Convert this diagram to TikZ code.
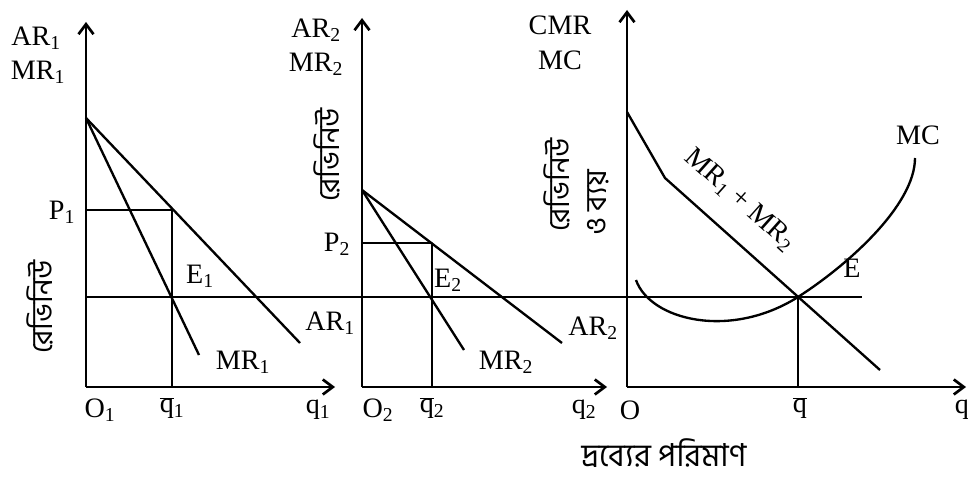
\documentclass[tikz,border=0pt]{standalone}
\usepackage{fontspec}
\setmainfont{Liberation Serif}
\newfontfamily\bnfont[Script=Bengali]{Hind Siliguri}
\usetikzlibrary{arrows.meta}
\newcommand{\qbar}{$\overline{\mbox{q}}$}

\begin{document}
\begin{tikzpicture}[x=0.03cm,y=-0.03cm,>={Straight Barb[length=3mm,width=4.5mm]},
  axis/.style={line width=2.3pt},
  curve/.style={line width=2pt,line join=round},
  lbl/.style={font=\fontsize{24}{26}\selectfont,inner sep=1pt},
  bn/.style={font=\bnfont\fontsize{25}{27}\selectfont,rotate=90,inner sep=1pt}]
  \useasboundingbox (0,0) rectangle (968,479);
  % first firm
  \coordinate (O1) at (86,387);
  \coordinate (Y1) at (86,22);
  \coordinate (X1) at (335,387);
  \coordinate (A1) at (86,118);
  \coordinate (P1) at (86,210);
  \coordinate (D1) at (172,210);
  \coordinate (E1) at (172,297);
  \coordinate (Q1) at (172,387);
  \coordinate (AR1) at (300,343);
  \coordinate (MR1) at (199,355);
  \draw[axis,->] (O1)--(Y1);
  \draw[axis,->] (O1)--(X1);
  \draw[curve] (A1)--(AR1);
  \draw[curve] (A1)--(MR1);
  \draw[curve] (P1)--(D1)--(Q1);
  % common MC level
  \coordinate (H0) at (86,297);
  \coordinate (H1) at (862,297);
  \draw[curve] (H0)--(H1);
  % second firm
  \coordinate (O2) at (362,387);
  \coordinate (Y2) at (362,18);
  \coordinate (X2) at (607,387);
  \coordinate (A2) at (362,190);
  \coordinate (P2) at (362,243);
  \coordinate (D2) at (432,243);
  \coordinate (E2) at (432,297);
  \coordinate (Q2) at (432,387);
  \coordinate (AR2) at (562,343);
  \coordinate (MR2) at (464,350);
  \draw[axis,->] (O2)--(Y2);
  \draw[axis,->] (O2)--(X2);
  \draw[curve] (A2)--(AR2);
  \draw[curve] (A2)--(MR2);
  \draw[curve] (P2)--(D2)--(Q2);
  % combined
  \coordinate (O3) at (627,387);
  \coordinate (Y3) at (627,10);
  \coordinate (X3) at (966,387);
  \coordinate (K0) at (627,112);
  \coordinate (K1) at (665,178);
  \coordinate (K2) at (880,370);
  \coordinate (E) at (798,297);
  \coordinate (Q3) at (798,387);
  \coordinate (MC0) at (636,280);
  \coordinate (MC1) at (915,158);
  \draw[axis,->] (O3)--(Y3);
  \draw[axis,->] (O3)--(X3);
  \draw[curve] (K0)--(K1)--(K2);
  \draw[curve] (E)--(Q3);
  \draw[curve] (MC0) .. controls (650,320) and (730,340) .. (E)
    .. controls (848,265) and (915,205) .. (MC1);
  % labels
  \node[lbl] (tAR1) at (36,38) {AR\textsubscript{1}};
  \node[lbl] (tMR1) at (38,72) {MR\textsubscript{1}};
  \node[lbl] (tP1) at (62,212) {P\textsubscript{1}};
  \node[lbl] (tE1) at (200,276) {E\textsubscript{1}};
  \node[lbl] (tAR1b) at (330,323) {AR\textsubscript{1}};
  \node[lbl] (tMR1b) at (243,362) {MR\textsubscript{1}};
  \node[lbl] (tO1) at (100,410) {O\textsubscript{1}};
  \node[lbl] (tq1b) at (172,408) {\qbar\textsubscript{1}};
  \node[lbl] (tq1) at (318,410) {q\textsubscript{1}};
  \node[bn] (tRev1) at (40,307) {রেভিনিউ};
  \node[lbl] (tAR2) at (316,30) {AR\textsubscript{2}};
  \node[lbl] (tMR2) at (316,64) {MR\textsubscript{2}};
  \node[lbl] (tP2) at (337,244) {P\textsubscript{2}};
  \node[lbl] (tE2) at (448,280) {E\textsubscript{2}};
  \node[lbl] (tAR2b) at (593,328) {AR\textsubscript{2}};
  \node[lbl] (tMR2b) at (506,362) {MR\textsubscript{2}};
  \node[lbl] (tO2) at (378,410) {O\textsubscript{2}};
  \node[lbl] (tq2b) at (432,408) {\qbar\textsubscript{2}};
  \node[lbl] (tq2) at (584,410) {q\textsubscript{2}};
  \node[bn] (tRev2) at (327,155) {রেভিনিউ};
  \node[lbl] (tCMR) at (560,25) {CMR};
  \node[lbl] (tMC) at (560,60) {MC};
  \node[bn] (tRev3) at (557,185) {রেভিনিউ};
  \node[bn] (tCost) at (598,203) {ও ব্যয়};
  \node[lbl,rotate=-41.8] (tSum) at (740,200) {MR\textsubscript{1} + MR\textsubscript{2}};
  \node[lbl] (tMCc) at (918,135) {MC};
  \node[lbl] (tE) at (852,268) {E};
  \node[lbl] (tO) at (630,410) {O};
  \node[lbl] (tqb) at (800,408) {\qbar};
  \node[lbl] (tq) at (962,410) {q};
  \node[font=\bnfont\fontsize{27}{29}\selectfont] (tQty) at (664,453) {দ্রব্যের পরিমাণ};
\end{tikzpicture}
\end{document}
